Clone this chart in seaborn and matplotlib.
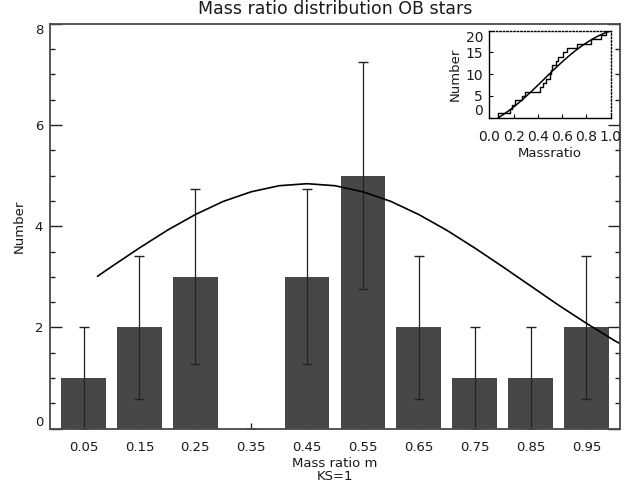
import matplotlib
matplotlib.use("Agg")
import matplotlib.pyplot as plt
from matplotlib.ticker import MultipleLocator
import pandas as pd
import seaborn as sns

# Histogram of mass ratios (bin centres, counts and Poisson errors)
bin_centers = [0.05, 0.15, 0.25, 0.35, 0.45, 0.55, 0.65, 0.75, 0.85, 0.95]
bin_labels = ["0.05", "0.15", "0.25", "0.35", "0.45", "0.55", "0.65", "0.75", "0.85", "0.95"]
counts = [1, 2, 3, 0, 3, 5, 2, 1, 1, 2]
count_errors = [1.0, 1.41, 1.73, 0.0, 1.73, 2.24, 1.41, 1.0, 1.0, 1.41]

# Fitted curve over the histogram
fit_x = [0.075, 0.10, 0.15, 0.20, 0.25, 0.30, 0.35, 0.40, 0.45, 0.50, 0.55,
         0.60, 0.65, 0.70, 0.75, 0.80, 0.85, 0.90, 0.95, 1.00, 1.01]
fit_y = [3.01, 3.20, 3.57, 3.92, 4.23, 4.49, 4.68, 4.80, 4.84, 4.80, 4.68,
         4.49, 4.23, 3.92, 3.57, 3.20, 2.82, 2.44, 2.08, 1.74, 1.68]

# Sorted individual mass ratios (inset cumulative distribution)
mass_ratios = [0.075, 0.17, 0.19, 0.21, 0.27, 0.29, 0.42, 0.44, 0.47, 0.50,
               0.51, 0.52, 0.55, 0.57, 0.61, 0.64, 0.72, 0.84, 0.92, 0.96]
running_number = [1, 2, 3, 4, 5, 6, 7, 8, 9, 10,
                  11, 12, 13, 14, 15, 16, 17, 18, 19, 20]

# Cumulative fitted curve (inset)
cfit_x = [0.075, 0.10, 0.15, 0.20, 0.25, 0.30, 0.35, 0.40, 0.45, 0.50, 0.55,
          0.60, 0.65, 0.70, 0.75, 0.80, 0.85, 0.90, 0.95, 1.00]
cfit_y = [0.0, 0.44, 1.40, 2.45, 3.61, 4.83, 6.13, 7.47, 8.83, 10.20, 11.54,
          12.83, 14.06, 15.21, 16.27, 17.22, 18.08, 18.82, 19.46, 20.0]

sns.set_theme(style="ticks")
plt.rcParams["font.family"] = ["DejaVu Sans"]
TXT = "#1a1a1a"
SPINE = "#4a4a4a"

fig = plt.figure(figsize=(6.38, 4.90), dpi=100)
ax = fig.add_axes([50 / 638, 1 - 428.6 / 490, 570 / 638, 404.8 / 490])

hist = pd.DataFrame({"ratio": bin_centers, "n": counts})
sns.barplot(data=hist, x="ratio", y="n", native_scale=True, width=0.8,
            color="#474747", saturation=1, edgecolor="none", errorbar=None,
            ax=ax, zorder=2)
ax.errorbar(bin_centers, counts, yerr=count_errors, fmt="none", ecolor="#222222",
            elinewidth=0.9, capsize=3.5, capthick=1.0, zorder=2.2)
sns.lineplot(x=fit_x, y=fit_y, color="black", lw=1.2, sort=False,
             estimator=None, ax=ax, zorder=2.3)

ax.set_xlim(-0.01, 1.01)
ax.set_ylim(0, 8)
ax.set_xticks(bin_centers)
ax.set_xticklabels(bin_labels)
ax.set_yticks([0, 2, 4, 6, 8])
ax.set_yticklabels(["0", "2", "4", "6", "8"])
ax.yaxis.set_minor_locator(MultipleLocator(0.5))
ax.tick_params(axis="x", direction="in", length=4.3, width=1.0, color="#222222",
               pad=9, labelsize=9.5, labelcolor=TXT, top=False)
ax.tick_params(axis="y", which="major", direction="in", length=8.5, width=1.0,
               color="#222222", pad=5, labelsize=9.5, labelcolor=TXT,
               left=True, right=True)
ax.tick_params(axis="y", which="minor", direction="in", length=3.6, width=1.0,
               color="#222222", left=True, right=True)
ylabels = ax.get_yticklabels()
ylabels[0].set_verticalalignment("bottom")
ylabels[-1].set_verticalalignment("top")
for s in ax.spines.values():
    s.set_color(SPINE)
    s.set_linewidth(1.3)

ax.set_title("Mass ratio distribution OB stars", fontsize=12.5, color=TXT, pad=7)
ax.set_xlabel("Mass ratio m\nKS=1", fontsize=9.5, color=TXT, labelpad=2,
              linespacing=1.0)
ax.set_ylabel("Number", fontsize=9.5, color=TXT, labelpad=6)

# Inset: cumulative distribution
ins = fig.add_axes([489.3 / 638, 1 - 117.7 / 490, 121.4 / 638, 87 / 490])
ins.set_facecolor("white")
step_x = [mass_ratios[0]] + mass_ratios + [1.0]
step_y = [0] + running_number + [running_number[-1]]
sns.lineplot(x=step_x, y=step_y, drawstyle="steps-post", color="black", lw=1.0,
             sort=False, estimator=None, ax=ins)
sns.lineplot(x=cfit_x, y=cfit_y, color="black", lw=1.1, sort=False,
             estimator=None, ax=ins)
ins.set_xlim(0, 1)
ins.set_ylim(0, 20)
ins.set_xticks([0.0, 0.2, 0.4, 0.6, 0.8, 1.0])
ins.set_xticklabels(["0.0", "0.2", "0.4", "0.6", "0.8", "1.0"])
ins.set_yticks([0, 5, 10, 15, 20])
ins.set_yticklabels(["0", "5", "10", "15", "20"])
ins.tick_params(axis="both", direction="in", length=3, width=0.8, color="black",
                labelsize=10, labelcolor=TXT)
ins.tick_params(axis="x", pad=9)
ins.tick_params(axis="y", pad=4.5)
iylabels = ins.get_yticklabels()
iylabels[0].set_verticalalignment("bottom")
iylabels[-1].set_verticalalignment("top")
for side in ["left", "bottom"]:
    ins.spines[side].set_color("black")
    ins.spines[side].set_linewidth(1.0)
for side in ["top", "right"]:
    ins.spines[side].set_color("black")
    ins.spines[side].set_linewidth(1.0)
    ins.spines[side].set_linestyle((0, (1, 1.5)))
ins.set_xlabel("Massratio", fontsize=9.5, color=TXT, labelpad=2)
ins.set_ylabel("Number", fontsize=9.5, color=TXT, labelpad=3)

fig.savefig("out.png", dpi=100)
